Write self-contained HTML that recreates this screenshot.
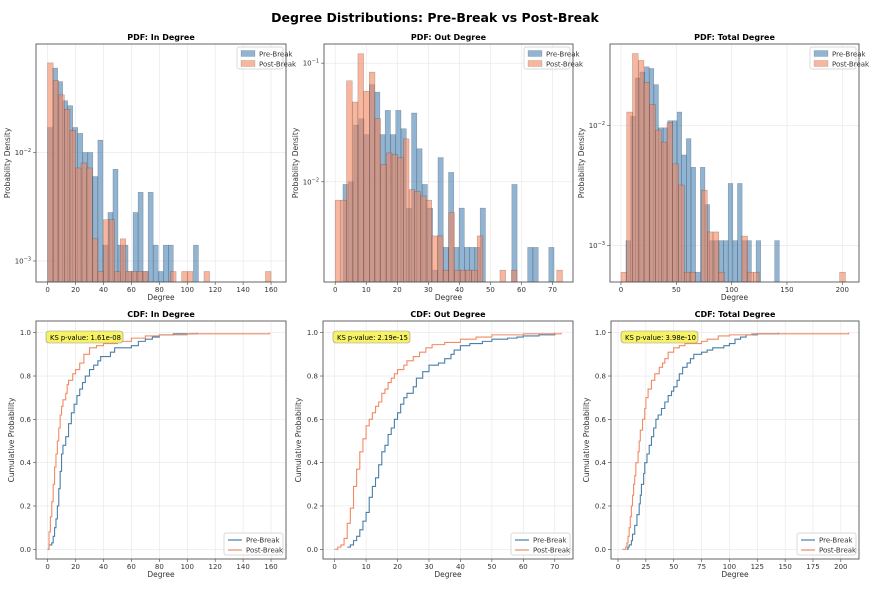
<!DOCTYPE html>
<html><head><meta charset="utf-8"><style>
body{margin:0;background:#fff;font-family:"Liberation Sans","DejaVu Sans",sans-serif}
svg text{font-family:"DejaVu Sans","Liberation Sans",sans-serif}
</style></head><body>
<svg id="c" width="870" height="589" viewBox="0 0 870 589" xmlns="http://www.w3.org/2000/svg">
<rect width="870" height="589" fill="#fff"/>
<text x="435" y="22" text-anchor="middle" font-size="12.5" font-weight="bold" fill="#000">Degree Distributions: Pre-Break vs Post-Break</text>
</svg>
<script>
// ---- PDF data (bin start, bin width, densities) ----
const inPreStart=0, inPreWidth=3.6;
const inPre=[0.017,0.06,0.045,0.03,0.027,0.017,0.015,0.01,0.01,0.006,0.013,0.0014,0.0028,0.007,0.0014,0.0014,0.0008,0.0028,0.0043,0.0008,0.0043,0.0014,0.0008,0.0014,0.0014,0,0,0,0,0.0014];
const inPostStart=0, inPostWidth=4;
const inPost=[0.067,0.046,0.034,0.025,0.016,0.0072,0.008,0.0072,0.0016,0.0008,0.0024,0.0024,0.0008,0.0016,0.0008,0.0008,0.0008,0.0008,0,0,0,0,0.0008,0,0.0008,0.0008,0,0,0.0008,0,0,0,0,0,0,0,0,0,0,0.0008];
const outPreStart=2.5, outPreWidth=1.7;
const outPre=[0.0095,0.01,0.03,0.034,0.025,0.066,0.057,0.025,0.04,0.025,0.04,0.028,0.006,0.038,0.019,0.0095,0.006,0.0018,0.016,0.0028,0.012,0.0028,0.006,0.0028,0.0028,0.0028,0.006,0,0,0,0,0,0.0095,0,0,0.0028,0.0028,0,0,0.0028];
const outPostStart=0, outPostWidth=1.83;
const outPost=[0.007,0.007,0.071,0.047,0.12,0.058,0.084,0.034,0.014,0.0175,0.017,0.016,0.023,0.0086,0.0083,0.0076,0.007,0.0035,0.0035,0.0018,0.0055,0.0018,0.0018,0.0018,0.0018,0.0035,0,0,0,0.0018,0,0.0018,0,0,0,0,0,0,0,0.0018];
const totPreStart=4.5, totPreWidth=4.2;
const totPre=[0.0011,0.012,0.025,0.028,0.031,0.03,0.022,0.0096,0.0096,0.011,0.011,0.013,0.0057,0.0078,0.0045,0.0006,0.0045,0.0022,0.0011,0.0011,0.0011,0.0011,0.0033,0.0011,0.0033,0.0011,0.0011,0,0.0011,0,0,0,0.0011];
const totPostStart=0, totPostWidth=5.2;
const totPost=[0.0006,0.013,0.04,0.035,0.023,0.015,0.0092,0.0073,0.0106,0.0048,0.0032,0.0006,0.0006,0,0.0029,0.0013,0.0013,0.0006,0,0,0,0.0012,0.0006,0.0006,0,0,0,0,0,0,0,0,0,0,0,0,0,0,0.0006];
// ---- CDF data ----
const inPreCdfX=[0,1,3,4,5,6,7,8,9,10,11,13,15,17,19,21,23,25,27,30,33,36,38,45,48,55,60,65,70,75,80,90,107];
const inPreCdfY=[0,0.02,0.03,0.06,0.1,0.14,0.2,0.28,0.36,0.44,0.48,0.52,0.58,0.63,0.67,0.71,0.74,0.77,0.8,0.83,0.85,0.87,0.89,0.91,0.93,0.93,0.94,0.96,0.97,0.98,0.99,0.995,1.0];
const inPostCdfX=[0,1,2,3,4,5,6,7,8,9,10,11,13,14,15,18,20,23,26,30,35,40,50,60,70,80,100,159];
const inPostCdfY=[0,0.08,0.15,0.22,0.3,0.38,0.44,0.5,0.56,0.62,0.66,0.69,0.72,0.76,0.78,0.81,0.83,0.86,0.9,0.93,0.94,0.95,0.96,0.975,0.985,0.99,0.995,1.0];
const outPreCdfX=[4,5,6,7,8,9,10,11,12,13,14,15,16,17,18,19,20,21,22,23,25,26,28,30,33,35,37,38,40,43,47,50,55,58,60,65,70];
const outPreCdfY=[0.01,0.02,0.04,0.06,0.09,0.13,0.17,0.24,0.29,0.33,0.39,0.45,0.48,0.53,0.56,0.6,0.63,0.67,0.7,0.72,0.75,0.79,0.82,0.85,0.86,0.88,0.9,0.92,0.94,0.95,0.96,0.97,0.975,0.98,0.985,0.99,1.0];
const outPostCdfX=[0,1,2,3,4,5,6,7,8,9,10,11,12,13,14,15,16,17,18,19,20,22,23,25,27,29,31,35,40,45,50,60,72];
const outPostCdfY=[0,0.01,0.02,0.05,0.12,0.19,0.29,0.37,0.45,0.51,0.57,0.6,0.63,0.66,0.68,0.72,0.74,0.77,0.79,0.81,0.83,0.85,0.87,0.89,0.91,0.93,0.945,0.955,0.97,0.98,0.99,0.995,1.0];
const totPreCdfX=[8,9,10,12,13,15,17,19,20,21,23,24,26,28,30,32,34,36,39,42,45,48,50,53,55,58,62,65,68,75,80,85,95,100,105,110,115,125,144];
const totPreCdfY=[0,0.01,0.02,0.04,0.07,0.11,0.16,0.21,0.25,0.3,0.35,0.4,0.44,0.48,0.52,0.56,0.6,0.62,0.65,0.68,0.71,0.73,0.75,0.78,0.81,0.84,0.86,0.88,0.9,0.91,0.92,0.93,0.94,0.95,0.97,0.98,0.99,0.995,1.0];
const totPostCdfX=[4,7,8,9,10,11,12,13,14,15,16,18,19,20,22,24,25,27,30,33,37,40,42,45,50,55,60,75,80,90,100,120,207];
const totPostCdfY=[0,0.01,0.03,0.06,0.1,0.15,0.2,0.25,0.3,0.34,0.4,0.45,0.5,0.55,0.6,0.65,0.7,0.74,0.78,0.81,0.84,0.86,0.88,0.91,0.93,0.94,0.95,0.96,0.97,0.985,0.99,0.995,1.0];
const ksLabels=["KS p-value: 1.61e-08","KS p-value: 2.19e-15","KS p-value: 3.98e-10"];
const inTicks=[0,20,40,60,80,100,120,140,160];
const outTicks=[0,10,20,30,40,50,60,70];
const totPdfTicks=[0,50,100,150,200];
const totCdfTicks=[0,25,50,75,100,125,150,175,200];
const cdfYTicks=[0,0.2,0.4,0.6,0.8,1.0];

const svg=document.getElementById('c');
const NS='http://www.w3.org/2000/svg';
function mk(tag,attrs,parent){const e=document.createElementNS(NS,tag);for(const k in attrs)e.setAttribute(k,attrs[k]);(parent||svg).appendChild(e);return e;}
const PRE='#4682b4', POST='#f4865f', PRELINE='#4a7fa8', POSTLINE='#f28a62';

function legend(x,y,w,kind){
  const g=mk('g',{});
  
  
  mk('rect',{x:x,y:y,width:w,height:22,rx:2,fill:'#fff','fill-opacity':0.85,stroke:'#ccc','stroke-width':0.7},g);
  ['Pre-Break','Post-Break'].forEach((lab,i)=>{
    const yy=y+7+i*10;
    if(kind==='bar'){
      const r=mk('rect',{x:x+4,y:yy-3.5,width:14,height:6,fill:i?POST:PRE,'fill-opacity':0.6,stroke:'#333','stroke-opacity':0.3,'stroke-width':0.5},g);
      
      
    } else {
      mk('line',{x1:x+4,x2:x+18,y1:yy,y2:yy,stroke:i?POSTLINE:PRELINE,'stroke-width':1.2},g);
    }
    const t=mk('text',{x:x+22,y:yy+2.5,'font-size':7,fill:'#333'},g);t.textContent=lab;
    
    
  });
}

function frame(b,title,ylab,ylx){
  const t=mk('text',{x:(b.x0+b.x1)/2,y:b.y0-4,'text-anchor':'middle','font-size':8,'font-weight':'bold',fill:'#000'});t.textContent=title;
  
  const xl=mk('text',{x:(b.x0+b.x1)/2,y:b.y1+18,'text-anchor':'middle','font-size':7.5,fill:'#333'});xl.textContent='Degree';
  
  const cy=(b.y0+b.y1)/2;
  const yl=mk('text',{x:ylx,y:cy,'text-anchor':'middle','font-size':7.5,fill:'#333',transform:`rotate(-90 ${ylx} ${cy})`});yl.textContent=ylab;
  
}
function box(b){const r=mk('rect',{x:b.x0,y:b.y0,width:b.x1-b.x0,height:b.y1-b.y0,fill:'none',stroke:'#555','stroke-width':0.9});}
function xticks(b,ticks,sx){
  ticks.forEach(v=>{const x=sx(v);
    mk('line',{x1:x,x2:x,y1:b.y0,y2:b.y1,stroke:'#e6e6e6','stroke-width':0.6});
    mk('line',{x1:x,x2:x,y1:b.y1,y2:b.y1+3,stroke:'#444','stroke-width':0.6});
    const t=mk('text',{x:x,y:b.y1+10,'text-anchor':'middle','font-size':7,fill:'#333'});t.textContent=v;
    
  });
}

function pdfPanel(b,xmin,xmax,ymin,ymax,pre,preStart,preW,post,postStart,postW,ticks,exps,title){
  const sx=v=>b.x0+(v-xmin)/(xmax-xmin)*(b.x1-b.x0);
  const ly=Math.log10(ymin), hy=Math.log10(ymax);
  const sy=v=>b.y1-(Math.log10(v)-ly)/(hy-ly)*(b.y1-b.y0);
  frame(b,title,'Probability Density',b.x0-26);
  xticks(b,ticks,sx);
  exps.forEach(e=>{const y=sy(Math.pow(10,e));
    mk('line',{x1:b.x0,x2:b.x1,y1:y,y2:y,stroke:'#e6e6e6','stroke-width':0.6});
    mk('line',{x1:b.x0-3,x2:b.x0,y1:y,y2:y,stroke:'#444','stroke-width':0.6});
    const t=mk('text',{x:b.x0-5,y:y+2.5,'text-anchor':'end','font-size':7,fill:'#333'});
    t.textContent='10';const s=mk('tspan',{dy:-3,'font-size':5},t);s.textContent='\u2212'+(-e);
    
  });
  const g=mk('g',{'clip-path':''});
  [[pre,preStart,preW,PRE,'bar-pre'],[post,postStart,postW,POST,'bar-post']].forEach(([arr,st,w,col,nm])=>{
    arr.forEach((v,i)=>{ if(!(v>0))return;
      const x0=sx(st+i*w), x1=sx(st+(i+1)*w), y=Math.max(sy(v),b.y0);
      const r=mk('rect',{x:x0,y:y,width:x1-x0,height:b.y1-y,fill:col,'fill-opacity':0.6,stroke:'#000','stroke-opacity':0.3,'stroke-width':0.5},g);
      
      
    });
  });
  box(b);
  legend(b.x1-49,b.y0+3,46,'bar');
}

function cdfPanel(b,xmin,xmax,preX,preY,postX,postY,ticks,ks,title){
  const sx=v=>b.x0+(v-xmin)/(xmax-xmin)*(b.x1-b.x0);
  const sy=v=>549.3-v*216.6;
  frame(b,title,'Cumulative Probability',b.x0-22);
  xticks(b,ticks,sx);
  cdfYTicks.forEach(v=>{const y=sy(v);
    mk('line',{x1:b.x0,x2:b.x1,y1:y,y2:y,stroke:'#e6e6e6','stroke-width':0.6});
    mk('line',{x1:b.x0-3,x2:b.x0,y1:y,y2:y,stroke:'#444','stroke-width':0.6});
    const t=mk('text',{x:b.x0-5,y:y+2.5,'text-anchor':'end','font-size':7,fill:'#333'});t.textContent=v.toFixed(1);
    
  });
  [[preX,preY,PRELINE,'cdf-line-pre'],[postX,postY,POSTLINE,'cdf-line-post']].forEach(([xs,ys,col,nm])=>{
    let d='M'+sx(xs[0])+' '+sy(ys[0]);
    for(let i=1;i<xs.length;i++){d+=' H'+sx(xs[i])+' V'+sy(ys[i]);}
    const p=mk('path',{d:d,fill:'none',stroke:col,'stroke-width':1.1});
    
    
  });
  box(b);
  const kg=mk('g',{});
  
  
  mk('rect',{x:b.x0+10,y:331,width:77,height:12,rx:3,fill:'#f5f266','stroke':'#999','stroke-width':0.6},kg);
  const t=mk('text',{x:b.x0+14,y:340,'font-size':6.8,fill:'#000'},kg);t.textContent=ks;
  legend(b.x1-62,b.y1-26,59,'line');
}

pdfPanel({x0:36,x1:286,y0:44,y1:282},-8.3,170.7,0.00064,0.1,inPre,inPreStart,inPreWidth,inPost,inPostStart,inPostWidth,inTicks,[-2,-3],'PDF: In Degree');
pdfPanel({x0:324,x1:573,y0:44,y1:282},-3.6,76.6,0.00143,0.145,outPre,outPreStart,outPreWidth,outPost,outPostStart,outPostWidth,outTicks,[-1,-2],'PDF: Out Degree');
pdfPanel({x0:610,x1:859,y0:44,y1:282},-9.9,215.1,0.000497,0.048,totPre,totPreStart,totPreWidth,totPost,totPostStart,totPostWidth,totPdfTicks,[-2,-3],'PDF: Total Degree');
cdfPanel({x0:36,x1:286,y0:321,y1:559},-8.3,170.7,inPreCdfX,inPreCdfY,inPostCdfX,inPostCdfY,inTicks,ksLabels[0],'CDF: In Degree');
cdfPanel({x0:323,x1:573,y0:321,y1:559},-3.7,75.8,outPreCdfX,outPreCdfY,outPostCdfX,outPostCdfY,outTicks,ksLabels[1],'CDF: Out Degree');
cdfPanel({x0:611,x1:859,y0:321,y1:559},-6.3,216.3,totPreCdfX,totPreCdfY,totPostCdfX,totPostCdfY,totCdfTicks,ksLabels[2],'CDF: Total Degree');
</script>
</body></html>
